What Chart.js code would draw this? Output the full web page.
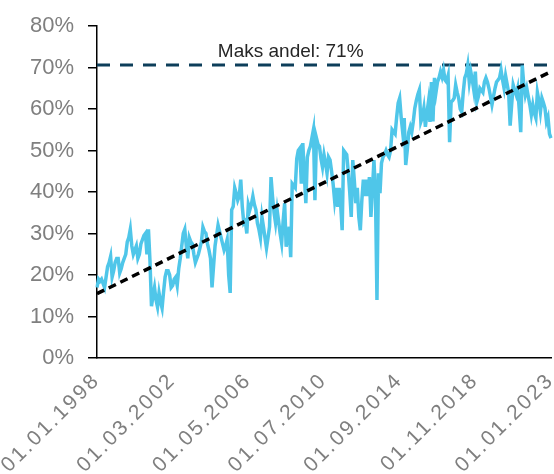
<!DOCTYPE html>
<html>
<head>
<meta charset="utf-8">
<script src="https://cdn.jsdelivr.net/npm/chart.js@4/dist/chart.umd.min.js"></script>
<style>
html,body{margin:0;padding:0;background:#fff;}
#wrap{width:554px;height:474px;}
</style>
</head>
<body>
<div id="wrap"><canvas id="c"></canvas></div>
<script>
// Monthly share (%) from 01.01.1998 to 01.01.2023
const shareValues = [
17,19,18.5,19,18,17,19.5,22,23,24.5,
19.5,21,23,24,24,20.5,21.5,23,24,25,
28,29,31,27,25,26,27,24,25,27.5,
28.5,29.5,30,25,31,23.5,12.5,15,17,14,
12.3,15.7,13.5,12,16,19.5,21,21,20,17,
17.5,19,19.5,17.5,21.5,24,27,30,31,27,
24,29,28,27.5,25,23,24,25,26.5,28,
31.5,30.5,30,27.5,26,24,17,22,27,29.5,
32,30.5,29,27.5,26,27,28.5,20,15.7,35.7,
36.5,41,39.7,38,39,43,36.5,32.5,33,30,
37,35.7,37,39,37,35.7,32.5,31,29,34,
31.6,29,26.5,29,31.6,43.6,38.8,35,32.5,35.7,
33,30,27.7,33,37.3,26.8,29,31.6,24.3,42,
41.5,41,48,50,50.5,42,51.8,44,37.3,48.4,
50,51,53,55,38,53,51.5,51,48,46,
49,47,44.5,48.4,47.7,45,42,38,41,36.4,
41,37,30.8,50,49.5,49,45,40,34,47.7,
43,37.3,41,34,30.8,38,43,39,43,39,
43.6,34,40.5,47.7,40,14,44.5,39.7,47,48.4,
49,50,49,48.4,50,55,54.5,54,58,61.4,
62.6,58,54.4,57.8,46.5,50,54.4,55.7,54.4,57,
60.2,62,63.5,64.6,56.9,58,60.2,55.7,59,61.7,
56.9,66.5,57,67.5,64,66.5,67.5,69,67.7,69.4,
67,66.5,68,52,61.7,62,62.6,65.8,64,62.6,
60,59.3,64,67.5,68.5,70.6,66.5,69,67,64.5,
69,61.7,63,65,64.5,64,66.5,67.5,66.5,65,
63,61,63,65,66.5,67,67.5,69.4,67,65,
68,66,64,56,61,65.8,64.5,63.4,65,60,
54.4,70.5,66,63.4,65,63,61,58.6,61,59,
57.8,64,62,59.3,62.6,61.5,60.2,56.9,58,54,
53
];
const trendStart = 15.5;   // trend value at first month
const trendEnd = 69;       // trend value at last month
const maxShare = 70.6;     // "Maks andel"
const maxLabel = 'Maks andel: 71%';
const yTicks = [0,10,20,30,40,50,60,70,80];
const startYear = 1998, startMonth = 1;
const tickEvery = 50;

const monthLabels = [];
for (let i = 0; i < shareValues.length; i++) {
  const m0 = startMonth - 1 + i;
  const y = startYear + Math.floor(m0 / 12);
  const m = (m0 % 12) + 1;
  monthLabels.push('01.' + String(m).padStart(2, '0') + '.' + y);
}
const n = shareValues.length;
const trendData = shareValues.map((v, i) => i === 0 ? trendStart : (i === n - 1 ? trendEnd : null));
const maxData = shareValues.map(() => maxShare);

const XSPACING = '2.5px';

const labelPlugin = {
  id: 'maxLabel',
  afterDatasetsDraw(chart) {
    const {ctx, scales} = chart;
    const y = scales.y.getPixelForValue(maxShare);
    const x = scales.x.getPixelForValue(Math.round(n * 0.425));
    ctx.save();
    ctx.letterSpacing = '0px';
    ctx.font = '19px "Liberation Sans", Arial, sans-serif';
    ctx.fillStyle = '#262626';
    ctx.textAlign = 'center';
    ctx.textBaseline = 'bottom';
    ctx.fillText(maxLabel, x, y - 4);
    ctx.restore();
  }
};

new Chart(document.getElementById('c'), {
  type: 'line',
  data: {
    labels: monthLabels,
    datasets: [
      {data: maxData, borderColor: '#0D3E5A', borderWidth: 3, borderDash: [13, 10], pointRadius: 0, order: 3},
      {data: shareValues, borderColor: '#4FC6E9', borderWidth: 3.5, pointRadius: 0, tension: 0, order: 2},
      {data: trendData, borderColor: '#000000', borderWidth: 3.5, borderDash: [8, 5], pointRadius: 0, spanGaps: true, order: 1}
    ]
  },
  options: {
    responsive: true,
    maintainAspectRatio: false,
    animation: false,
    layout: {padding: {top: 26, right: 3, left: 0, bottom: 0}},
    plugins: {legend: {display: false}, tooltip: {enabled: false}},
    scales: {
      x: {
        type: 'category',
        grid: {display: false, drawTicks: false},
        border: {color: '#000', width: 1.5},
        beforeCalculateLabelRotation: (s) => { s.ctx.letterSpacing = XSPACING; },
        afterFit: (s) => {
          s.ctx.letterSpacing = '0px';
          s.height = 116;
          s.paddingLeft = 0;
          s.paddingRight = 0;
          if (!s._wrapped) {
            const orig = s.drawLabels;
            s.drawLabels = function (area) {
              const c = this.ctx;
              const prev = c.letterSpacing;
              c.letterSpacing = XSPACING;
              orig.call(this, area);
              c.letterSpacing = prev;
            };
            s._wrapped = true;
          }
        },
        ticks: {
          autoSkip: false,
          maxRotation: 45,
          minRotation: 45,
          padding: 10,
          color: '#7f7f7f',
          font: {family: '"Liberation Sans", Arial, sans-serif', size: 21},
          callback: (v, i) => (i % tickEvery === 0 ? monthLabels[i] : null)
        }
      },
      y: {
        min: 0,
        max: 80,
        afterBuildTicks: (s) => { s.ticks = yTicks.map(v => ({value: v})); },
        afterFit: (s) => { s.width = 97; s.paddingTop = 0; s.paddingBottom = 0; },
        grid: {display: true, drawOnChartArea: false, drawTicks: true, tickLength: 9, color: '#000', lineWidth: 1.5},
        border: {color: '#000', width: 1.5},
        ticks: {
          padding: 14,
          color: '#7f7f7f',
          font: {family: '"Liberation Sans", Arial, sans-serif', size: 22},
          callback: (v) => v + '%'
        }
      }
    }
  },
  plugins: [labelPlugin]
});
</script>
</body>
</html>
